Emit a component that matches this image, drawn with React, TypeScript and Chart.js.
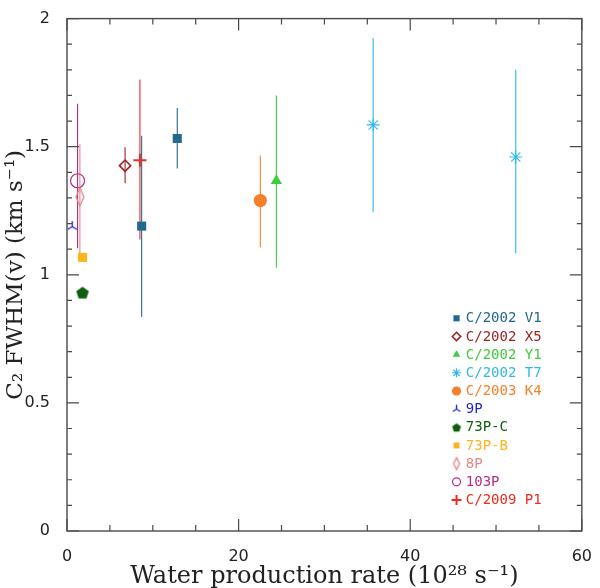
import React, { useEffect, useRef } from "react";
import { Chart, registerables } from "chart.js";
import { drawPoint } from "chart.js/helpers";

Chart.register(...registerables);

// ---- data ----
const COMETS = ["C/2002 V1", "C/2002 X5", "C/2002 Y1", "C/2002 T7", "C/2003 K4", "9P", "73P-C", "73P-B", "8P", "103P", "C/2009 P1"];
const COMET_COLORS = ["#23698e", "#9e2323", "#3ccc3c", "#30b8ec", "#f5802a", "#1e1ed2", "#0b5e0b", "#ffb41e", "#e8868c", "#b42c86", "#f02a1e"];

const OBS_COMET = ["C/2002 V1", "C/2002 V1", "C/2002 X5", "C/2002 Y1", "C/2002 T7", "C/2002 T7", "C/2003 K4", "9P", "73P-C", "73P-B", "8P", "103P", "C/2009 P1"];
const OBS_WATER = [8.7, 12.85, 6.77, 24.4, 35.68, 52.3, 22.53, 0.61, 1.81, 1.81, 1.5, 1.23, 8.5];
const OBS_FWHM = [1.19, 1.532, 1.426, 1.367, 1.585, 1.46, 1.29, 1.188, 0.93, 1.068, 1.304, 1.367, 1.447];
const OBS_LOW = [0.836, 1.415, 1.357, 1.028, 1.245, 1.083, 1.108, null, null, null, 1.07, 1.104, 1.138];
const OBS_HIGH = [1.543, 1.651, 1.498, 1.7, 1.923, 1.8, 1.466, null, null, null, 1.51, 1.668, 1.762];

const X_TICKS = [0, 20, 40, 60];
const Y_TICKS = [0, 0.5, 1, 1.5, 2];
const X_TICK_LABELS = ["0", "20", "40", "60"];
const Y_TICK_LABELS = ["0", "0.5", "1", "1.5", "2"];

const X_TITLE = "Water production rate (10\u00B2\u2078 s\u207B\u00B9)";
const Y_TITLE = "C\u2082 FWHM(v) (km s\u207B\u00B9)";

// ---- marker images ----
function makeCanvas(w: number, h: number, draw: (c: CanvasRenderingContext2D) => void) {
  const c = document.createElement("canvas");
  c.width = w;
  c.height = h;
  const ctx = c.getContext("2d")!;
  draw(ctx);
  return c;
}
function triMarker(color: string, L: number, lw: number) {
  const s = Math.ceil(L * 2 + 4);
  return makeCanvas(s, s, (ctx) => {
    const c = s / 2;
    ctx.strokeStyle = color;
    ctx.lineWidth = lw;
    ctx.beginPath();
    ctx.moveTo(c, c);
    ctx.lineTo(c, c - L);
    ctx.moveTo(c, c);
    ctx.lineTo(c - L * Math.cos(Math.PI / 6), c + L * Math.sin(Math.PI / 6));
    ctx.moveTo(c, c);
    ctx.lineTo(c + L * Math.cos(Math.PI / 6), c + L * Math.sin(Math.PI / 6));
    ctx.stroke();
  });
}
function pentagonMarker(color: string, R: number) {
  const s = Math.ceil(R * 2 + 4);
  return makeCanvas(s, s, (ctx) => {
    const c = s / 2;
    ctx.fillStyle = color;
    ctx.beginPath();
    for (let i = 0; i < 5; i++) {
      const a = -Math.PI / 2 + (i * 2 * Math.PI) / 5;
      const px = c + R * Math.cos(a);
      const py = c + 0.5 + R * Math.sin(a);
      if (i === 0) ctx.moveTo(px, py);
      else ctx.lineTo(px, py);
    }
    ctx.closePath();
    ctx.fill();
  });
}
function narrowDiamond(color: string, w: number, h: number, lw: number) {
  const cw = Math.ceil(w + 4);
  const ch = Math.ceil(h + 4);
  return makeCanvas(cw, ch, (ctx) => {
    ctx.strokeStyle = color;
    ctx.lineWidth = lw;
    ctx.beginPath();
    ctx.moveTo(cw / 2, ch / 2 - h / 2);
    ctx.lineTo(cw / 2 + w / 2, ch / 2);
    ctx.lineTo(cw / 2, ch / 2 + h / 2);
    ctx.lineTo(cw / 2 - w / 2, ch / 2);
    ctx.closePath();
    ctx.stroke();
  });
}

type Mk = { style: any; radius: number; fill: boolean; lw: number };

function markerSpecs(legend: boolean): Mk[] {
  const k = legend ? 0.68 : 1;
  return [
    { style: "rect", radius: 6.4 * k, fill: true, lw: 0 },
    { style: "rectRot", radius: legend ? 4.2 : 5.6, fill: false, lw: 1.6 },
    { style: "triangle", radius: 6.5 * k, fill: true, lw: 0 },
    { style: "star", radius: legend ? 4.5 : 6.5, fill: false, lw: 1.1 },
    { style: "circle", radius: legend ? 4.6 : 6.6, fill: true, lw: 0 },
    { style: triMarker(COMET_COLORS[5], legend ? 4.5 : 5.5, 1.3), radius: 6, fill: false, lw: 0 },
    { style: pentagonMarker(COMET_COLORS[6], legend ? 4.6 : 6.6), radius: 6, fill: true, lw: 0 },
    { style: "rect", radius: legend ? 4.2 : 6.4, fill: true, lw: 0 },
    { style: legend ? narrowDiamond(COMET_COLORS[8], 6, 12, 1.4) : narrowDiamond(COMET_COLORS[8], 8, 18, 1.3), radius: 6, fill: false, lw: 0 },
    { style: "circle", radius: legend ? 4 : 7, fill: false, lw: 1.2 },
    { style: "cross", radius: legend ? 5 : 6.5, fill: false, lw: 2 },
  ];
}

const errorBarPlugin = {
  id: "errorBars",
  beforeDatasetsDraw(chart: any) {
    const { ctx } = chart;
    const x = chart.scales.x;
    const y = chart.scales.y;
    chart.data.datasets.forEach((ds: any) => {
      ctx.save();
      ctx.strokeStyle = ds.errColor;
      ctx.lineWidth = 1.1;
      ds.data.forEach((p: any) => {
        if (p.lo == null || p.hi == null) return;
        const px = x.getPixelForValue(p.x);
        ctx.beginPath();
        ctx.moveTo(px, y.getPixelForValue(p.lo));
        ctx.lineTo(px, y.getPixelForValue(p.hi));
        ctx.stroke();
      });
      ctx.restore();
    });
  },
};

const framePlugin = {
  id: "frameTicks",
  afterDraw(chart: any) {
    const { ctx, chartArea: a } = chart;
    const x = chart.scales.x;
    const y = chart.scales.y;
    ctx.save();
    ctx.strokeStyle = "#4a4a4a";
    ctx.lineWidth = 1.4;
    ctx.strokeRect(a.left, a.top, a.right - a.left, a.bottom - a.top);
    ctx.lineWidth = 1.2;
    ctx.beginPath();
    for (let i = 0; i <= 12; i++) {
      const px = x.getPixelForValue(i * 5);
      const len = i % 4 === 0 ? 12 : 6;
      ctx.moveTo(px, a.bottom);
      ctx.lineTo(px, a.bottom - len);
      ctx.moveTo(px, a.top);
      ctx.lineTo(px, a.top + len);
    }
    for (let i = 0; i <= 20; i++) {
      const py = y.getPixelForValue(i / 10);
      const len = i % 5 === 0 ? 12 : 5;
      ctx.moveTo(a.left, py);
      ctx.lineTo(a.left + len, py);
      ctx.moveTo(a.right, py);
      ctx.lineTo(a.right - len, py);
    }
    ctx.stroke();
    ctx.restore();
  },
};

const legendPlugin = {
  id: "customLegend",
  afterDraw(chart: any) {
    const { ctx, chartArea: a } = chart;
    const specs = markerSpecs(true);
    const mx = a.right - 125.3;
    const tx = a.right - 116;
    const y0 = a.bottom - 212.7;
    const dy = 18.17;
    ctx.save();
    ctx.font = "14px 'DejaVu Sans Mono'";
    ctx.textBaseline = "middle";
    ctx.textAlign = "left";
    COMETS.forEach((name, i) => {
      const cy = y0 + i * dy;
      const sp = specs[i];
      const col = COMET_COLORS[i];
      ctx.fillStyle = sp.fill ? col : "rgba(0,0,0,0)";
      ctx.strokeStyle = col;
      ctx.lineWidth = sp.lw;
      drawPoint(ctx, { pointStyle: sp.style, radius: sp.radius, rotation: 0, borderWidth: sp.lw }, mx, cy);
      ctx.fillStyle = col;
      ctx.fillText(name, tx, cy + 0.5);
    });
    ctx.restore();
  },
};

export default function App() {
  const ref = useRef<HTMLCanvasElement>(null);
  useEffect(() => {
    document.body.style.margin = "0";
    const specs = markerSpecs(false);
    const datasets = COMETS.map((name, ci) => {
      const data: any[] = [];
      OBS_COMET.forEach((c, i) => {
        if (c === name) data.push({ x: OBS_WATER[i], y: OBS_FWHM[i], lo: OBS_LOW[i], hi: OBS_HIGH[i] });
      });
      const sp = specs[ci];
      const col = COMET_COLORS[ci];
      return {
        label: name,
        data,
        errColor: col,
        showLine: false,
        clip: false,
        pointStyle: sp.style,
        pointRadius: sp.radius,
        pointHoverRadius: sp.radius,
        pointBackgroundColor: sp.fill ? col : "rgba(0,0,0,0)",
        pointBorderColor: col,
        pointBorderWidth: sp.lw,
      };
    });
    const chart = new Chart(ref.current!, {
      type: "scatter",
      data: { datasets } as any,
      options: {
        animation: false,
        responsive: false,
        events: [],
        layout: { padding: { top: 10, right: 12, left: 0, bottom: 0 } },
        plugins: { legend: { display: false }, tooltip: { enabled: false } },
        scales: {
          x: {
            type: "linear",
            min: 0,
            max: 60,
            afterBuildTicks: (s: any) => {
              s.ticks = X_TICKS.map((v) => ({ value: v }));
            },
            afterFit: (s: any) => {
              s.height = 57;
            },
            ticks: {
              font: { family: "DejaVu Sans", size: 16 },
              color: "#222",
              padding: 8,
              maxRotation: 0,
              callback: (v: any) => {
                const i = X_TICKS.indexOf(Number(v));
                return i >= 0 ? X_TICK_LABELS[i] : "";
              },
            },
            grid: { display: false },
            border: { display: false },
            title: {
              display: true,
              text: X_TITLE,
              font: { family: "DejaVu Serif", size: 24 },
              color: "#222",
              padding: { top: 0, bottom: -3 },
            },
          },
          y: {
            type: "linear",
            min: 0,
            max: 2,
            afterBuildTicks: (s: any) => {
              s.ticks = Y_TICKS.map((v) => ({ value: v }));
            },
            afterFit: (s: any) => {
              s.width = 67;
            },
            ticks: {
              font: { family: "DejaVu Sans", size: 16 },
              color: "#222",
              padding: 9,
              callback: (v: any) => {
                const i = Y_TICKS.indexOf(Number(v));
                return i >= 0 ? Y_TICK_LABELS[i] : "";
              },
            },
            grid: { display: false },
            border: { display: false },
            title: {
              display: true,
              text: Y_TITLE,
              font: { family: "DejaVu Serif", size: 23 },
              color: "#222",
              padding: { top: 2, bottom: 0 },
            },
          },
        },
      } as any,
      plugins: [errorBarPlugin, framePlugin, legendPlugin],
    });
    return () => chart.destroy();
  }, []);
  return (
    <div style={{ width: 600, height: 588 }}>
      <canvas ref={ref} width={600} height={588} style={{ display: "block" }} />
    </div>
  );
}
